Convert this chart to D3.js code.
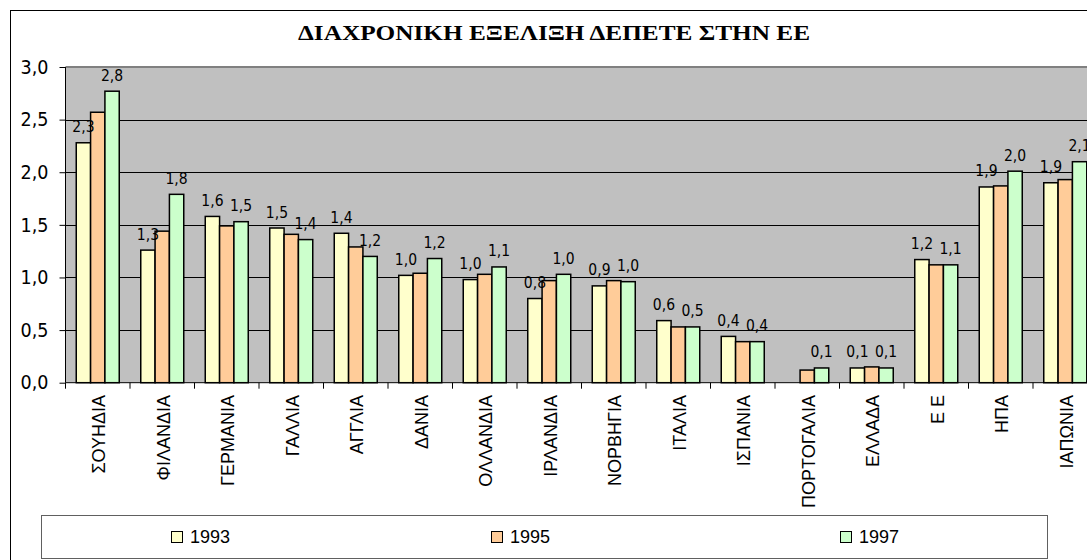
<!DOCTYPE html>
<html><head><meta charset="utf-8">
<script src="https://cdn.jsdelivr.net/npm/d3@7"></script>
<style>html,body{margin:0;padding:0;background:#fff;overflow:hidden}</style>
</head><body>
<svg id="chart" width="1087" height="560"></svg>
<script>
const title = "ΔΙΑΧΡΟΝΙΚΗ ΕΞΕΛΙΞΗ ΔΕΠΕΤΕ ΣΤΗΝ ΕΕ";
const categories = ["ΣΟΥΗΔΙΑ","ΦΙΛΑΝΔΙΑ","ΓΕΡΜΑΝΙΑ","ΓΑΛΛΙΑ","ΑΓΓΛΙΑ","ΔΑΝΙΑ","ΟΛΛΑΝΔΙΑ","ΙΡΛΑΝΔΙΑ","ΝΟΡΒΗΓΙΑ","ΙΤΑΛΙΑ","ΙΣΠΑΝΙΑ","ΠΟΡΤΟΓΑΛΙΑ","ΕΛΛΑΔΑ","Ε Ε","ΗΠΑ","ΙΑΠΩΝΙΑ"];
const seriesNames = ["1993","1995","1997"];
const v1993 = [2.28,1.26,1.58,1.47,1.42,1.02,0.98,0.80,0.92,0.59,0.44,null,0.14,1.17,1.86,1.90];
const v1995 = [2.57,1.44,1.49,1.41,1.29,1.04,1.03,0.97,0.97,0.53,0.39,0.12,0.15,1.12,1.87,1.93];
const v1997 = [2.77,1.79,1.53,1.36,1.20,1.18,1.10,1.03,0.96,0.53,0.39,0.14,0.14,1.12,2.01,2.10];
const labelledSeries = ["1993","1997"];
const yTicks = [0,0.5,1.0,1.5,2.0,2.5,3.0];
const colors = ["#FFFFCC","#FFCC99","#CCFFCC"];

const seriesValues = [v1993, v1995, v1997];
const svg = d3.select("#chart");
const fmt = d => d.toFixed(1).replace(".", ",");
const numFont = "'DejaVu Sans Condensed','DejaVu Sans',sans-serif";

// outer frame
svg.append("rect").attr("x",10.5).attr("y",10.5).attr("width",1100).attr("height",570)
  .attr("fill","#fff").attr("stroke","#000").attr("stroke-width",1);

// title
svg.append("text").attr("x",298).attr("y",40)
  .attr("textLength",512).attr("lengthAdjust","spacingAndGlyphs")
  .attr("font-family","'Liberation Serif','Times New Roman',serif").attr("font-weight","bold")
  .attr("font-size",21).text(title);

const plot = {left:65.5, right:1097.5, top:67, bottom:382.7};
const x0 = d3.scaleBand().domain(categories).range([plot.left, plot.right])
  .paddingInner(1/3).paddingOuter(1/6);
const x1 = d3.scaleBand().domain(seriesNames).range([0, x0.bandwidth()]);
const y = d3.scaleLinear().domain([0,3]).range([plot.bottom, plot.top]);

// plot background
svg.append("rect").attr("x",plot.left).attr("y",plot.top)
  .attr("width",plot.right-plot.left).attr("height",plot.bottom-plot.top).attr("fill","#C0C0C0");

// gridlines
svg.append("g").selectAll("line").data(yTicks.filter(t => t>0 && t<3)).join("line")
  .attr("x1",plot.left).attr("x2",plot.right)
  .attr("y1",d=>Math.round(y(d))+0.5).attr("y2",d=>Math.round(y(d))+0.5)
  .attr("stroke","#000").attr("stroke-width",1);
svg.append("line").attr("x1",plot.left).attr("x2",plot.right)
  .attr("y1",y(3)).attr("y2",y(3)).attr("stroke","#808080").attr("stroke-width",2);

// bars
const data = categories.map((c,i) => ({cat:c, vals: seriesNames.map((s,j)=>({s, j, v: seriesValues[j][i]}))}));
const groups = svg.append("g").selectAll("g").data(data).join("g")
  .attr("transform", d => `translate(${x0(d.cat)},0)`);
groups.selectAll("rect").data(d => d.vals.filter(e => e.v !== null)).join("rect")
  .attr("x", e => x1(e.s)).attr("width", x1.bandwidth())
  .attr("y", e => y(e.v)).attr("height", e => y(0)-y(e.v))
  .attr("fill", e => colors[e.j]).attr("stroke","#000").attr("stroke-width",1.5);
groups.selectAll("text").data(d => d.vals.filter(e => e.v !== null && labelledSeries.includes(e.s))).join("text")
  .attr("x", e => x1(e.s) + x1.bandwidth()/2).attr("y", e => y(e.v) - 10.5)
  .attr("text-anchor","middle").attr("font-family",numFont).attr("font-size",15.5)
  .attr("fill","#000").text(e => fmt(e.v));

// y axis
const yAxis = svg.append("g").attr("transform",`translate(${plot.left},0)`)
  .call(d3.axisLeft(y).tickValues(yTicks).tickSize(6).tickPadding(11).tickFormat(fmt));
yAxis.select(".domain").attr("stroke","#000").attr("d",`M0,${plot.top}V${plot.bottom}`);
yAxis.selectAll("text").attr("font-family",numFont).attr("font-size",19.5).attr("fill","#000");
yAxis.selectAll(".tick line").attr("stroke","#000");

// x axis
const xAxis = svg.append("g").attr("transform",`translate(0,${plot.bottom})`)
  .call(d3.axisBottom(x0).tickSize(0).tickFormat(""));
xAxis.select(".domain").attr("stroke","#000").attr("d",`M${plot.left},0H${plot.right}`);
const boundaries = categories.map(c => x0(c) - x0.step()*x0.paddingOuter()).concat([plot.right]);
xAxis.append("g").selectAll("line").data(boundaries).join("line")
  .attr("x1",d=>d).attr("x2",d=>d).attr("y1",0).attr("y2",6).attr("stroke","#000");
svg.append("g").selectAll("text").data(categories).join("text")
  .attr("transform", c => `translate(${x0(c)+x0.bandwidth()/2+1},395) rotate(-90)`)
  .attr("text-anchor","end").attr("dy","0.35em")
  .attr("font-family","'Liberation Sans',Arial,sans-serif").attr("font-size",18)
  .attr("fill","#000").text(c => c);

// legend
svg.append("rect").attr("x",41.5).attr("y",515.5).attr("width",1006).attr("height",43)
  .attr("fill","#fff").attr("stroke","#606060").attr("stroke-width",1);
const legendX = [171, 491, 840];
const lg = svg.append("g").selectAll("g").data(seriesNames).join("g")
  .attr("transform",(d,i)=>`translate(${legendX[i]},537)`);
lg.append("rect").attr("x",0.5).attr("y",-5.5).attr("width",11).attr("height",11)
  .attr("fill",(d,i)=>colors[i]).attr("stroke","#000").attr("stroke-width",1);
lg.append("text").attr("x",19).attr("y",0).attr("dy","0.35em")
  .attr("font-family","'Liberation Sans',Arial,sans-serif").attr("font-size",18)
  .attr("fill","#000").text(d=>d);
</script>
</body></html>
